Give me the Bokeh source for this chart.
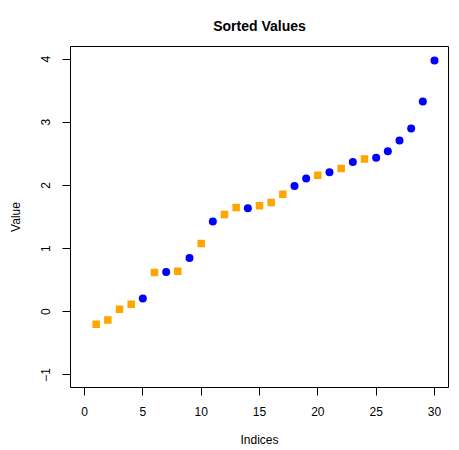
from bokeh.plotting import figure
from bokeh.embed import file_html
from bokeh.resources import INLINE
from bokeh.models import ColumnDataSource, FixedTicker, Range1d

indices = list(range(1, 31))
values = [-0.20, -0.13, 0.04, 0.12, 0.21, 0.62, 0.63, 0.64, 0.85, 1.08,
          1.43, 1.54, 1.65, 1.64, 1.68, 1.73, 1.86, 1.99, 2.11, 2.16,
          2.21, 2.27, 2.37, 2.42, 2.44, 2.54, 2.71, 2.90, 3.33, 3.98]
groups = ["A", "A", "A", "A", "B", "A", "B", "A", "B", "A",
          "B", "A", "A", "B", "A", "A", "A", "B", "B", "A",
          "B", "A", "B", "A", "B", "B", "B", "B", "B", "B"]
x_ticks = [0, 5, 10, 15, 20, 25, 30]
y_ticks = [-1, 0, 1, 2, 3, 4]
title_text = "Sorted Values"

FONT = "Liberation Sans"

p = figure(frame_width=378, frame_height=341, output_backend="svg", toolbar_location=None,
           title=title_text,
           x_range=Range1d(-1.2, 31.2), y_range=Range1d(-1.2, 4.2),
           min_border_left=70, min_border_right=2, min_border_top=46, min_border_bottom=40)
p.title.align = "center"
p.title.text_font = FONT
p.title.text_font_size = "14px"
p.title.text_font_style = "bold"
p.title.text_color = "black"
p.title.standoff = 26

p.grid.visible = False
p.outline_line_color = "black"
p.outline_line_width = 1
p.background_fill_color = "white"
p.border_fill_color = "white"

for ax in (p.xaxis[0], p.yaxis[0]):
    ax.axis_line_color = None
    ax.minor_tick_line_color = None
    ax.major_tick_in = 0
    ax.major_tick_out = 8
    ax.major_tick_line_color = "black"
    ax.major_label_text_font = FONT
    ax.major_label_text_font_size = "12px"
    ax.major_label_text_color = "black"
    ax.axis_label_text_font = FONT
    ax.axis_label_text_font_size = "12px"
    ax.axis_label_text_font_style = "normal"
    ax.axis_label_text_color = "black"

p.xaxis[0].ticker = FixedTicker(ticks=x_ticks)
p.yaxis[0].ticker = FixedTicker(ticks=y_ticks)
p.xaxis[0].axis_label = "Indices"
p.yaxis[0].axis_label = "Value"
p.xaxis[0].major_label_standoff = 11
p.xaxis[0].axis_label_standoff = 14
p.yaxis[0].major_label_standoff = 12
p.yaxis[0].major_label_orientation = "vertical"
p.yaxis[0].axis_label_standoff = 16
p.yaxis[0].major_label_overrides = {-1: "\u22121"}

xa = [i for i, g in zip(indices, groups) if g == "A"]
ya = [v for v, g in zip(values, groups) if g == "A"]
xb = [i for i, g in zip(indices, groups) if g == "B"]
yb = [v for v, g in zip(values, groups) if g == "B"]

p.scatter(x="x", y="y", source=ColumnDataSource(dict(x=xa, y=ya)), marker="square",
          size=7.5, fill_color="#FFA500", line_color=None)
p.scatter(x="x", y="y", source=ColumnDataSource(dict(x=xb, y=yb)), marker="circle",
          size=8, fill_color="#0000FF", line_color=None)

open("out.html", "w").write(file_html(p, INLINE))
